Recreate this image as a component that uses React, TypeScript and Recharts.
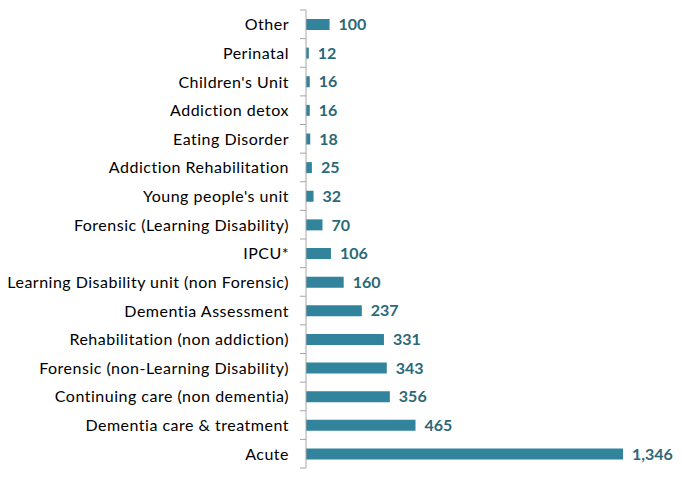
import React from "react";
import { BarChart, Bar, XAxis, YAxis, LabelList } from "recharts";

const categories = [
  "Other",
  "Perinatal",
  "Children's Unit",
  "Addiction detox",
  "Eating Disorder",
  "Addiction Rehabilitation",
  "Young people's unit",
  "Forensic (Learning Disability)",
  "IPCU*",
  "Learning Disability unit (non Forensic)",
  "Dementia Assessment",
  "Rehabilitation (non addiction)",
  "Forensic (non-Learning Disability)",
  "Continuing care (non dementia)",
  "Dementia care & treatment",
  "Acute",
];
const values = [100, 12, 16, 16, 18, 25, 32, 70, 106, 160, 237, 331, 343, 356, 465, 1346];

const data = categories.map((name, i) => ({ name, value: values[i] }));

const W = 676;
const H = 470;
const M = { top: 2, right: 61, bottom: 10, left: 0 };
const PLOT_H = H - M.top - M.bottom;
const BAND = PLOT_H / categories.length;
const FONT = "Lato, 'Open Sans', sans-serif";
const AXIS = "#A6A6A6";

const CatTick = (props: any) => {
  const { x, y, payload, index } = props;
  const last = index === categories.length - 1;
  return (
    <g>
      <line x1={x + 2} x2={x + 8} y1={y - BAND / 2} y2={y - BAND / 2} stroke={AXIS} />
      {last && <line x1={x + 2} x2={x + 8} y1={y + BAND / 2} y2={y + BAND / 2} stroke={AXIS} />}
      <text
        x={x - 9}
        y={y}
        dy={6}
        textAnchor="end"
        fill="#000"
        fontSize={16}
        letterSpacing={0.5}
        fontFamily={FONT}
      >
        {payload.value}
      </text>
    </g>
  );
};

export default function App() {
  return (
    <BarChart width={W} height={H} data={data} layout="vertical" margin={M} barCategoryGap={0}>
      <XAxis type="number" domain={[0, 1346]} hide />
      <YAxis
        type="category"
        dataKey="name"
        width={298}
        axisLine={{ stroke: AXIS }}
        tickLine={false}
        tick={<CatTick />}
        interval={0}
      />
      <Bar dataKey="value" fill="#31849B" barSize={11} isAnimationActive={false}>
        <LabelList
          dataKey="value"
          position="right"
          offset={9}
          formatter={(v: any) => Number(v).toLocaleString("en-US")}
          fill="#2B6878"
          fontSize={16}
          fontWeight="bold"
          fontFamily={FONT}
        />
      </Bar>
    </BarChart>
  );
}
